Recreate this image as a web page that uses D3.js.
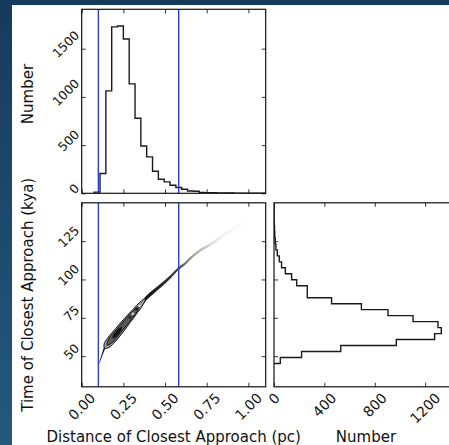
<!DOCTYPE html>
<html>
<head>
<meta charset="utf-8">
<script src="https://cdn.jsdelivr.net/npm/d3@7"></script>
<style>
  html, body { margin: 0; padding: 0; background: #1c486d; }
  svg { display: block; }
  text { font-family: "DejaVu Sans", sans-serif; fill: #111; }
</style>
</head>
<body>
<svg id="chart" width="449" height="445"></svg>
<script>
// Histogram of closest-approach distance (pc): evenly spaced bins
const distStart = 0.075;
const distWidth = 0.035;
const distCounts = [12, 205, 1062, 1726, 1735, 1601, 1135, 778, 490, 378,
                    229, 146, 118, 83, 60, 42, 24, 22, 10, 7,
                    6, 4, 3, 3, 2, 2, 1, 1, 1, 1];

// Histogram of closest-approach time (kya): evenly spaced bins
const timeStart = 45.2;
const timeWidth = 3.9;
const timeCounts = [50, 219, 530, 971, 1275, 1328, 1302, 1104, 905, 694,
                    457, 264, 264, 180, 140, 90, 60, 42, 26, 15,
                    10, 6, 4, 2, 1, 1, 0];

// Distance interval markers (pc)
const distMarkers = [0.10, 0.582];

// Ridge of the joint sample cloud: distance, time, relative density, half-spread (kya)
const ridgeDist    = [0.105, 0.115, 0.137, 0.16, 0.20, 0.25, 0.30, 0.35, 0.385, 0.43, 0.48, 0.53, 0.58, 0.62, 0.65, 0.71, 0.77, 0.85, 0.93, 0.97];
const ridgeTime    = [45.5, 48.5, 55.2, 59.5, 64.5, 70.5, 76.5, 82.5, 87.6, 92.0, 96.5, 101.5, 107.0, 110.3, 113.6, 119.0, 122.7, 128.8, 134.3, 137.5];
const ridgeDensity = [0.6, 0.9, 1, 1, 1, 1, 1, 1, 1, 0.97, 0.92, 0.87, 0.8, 0.62, 0.5, 0.32, 0.16, 0.06, 0.03, 0.01];
const ridgeSpread  = [0.8, 1.1, 1.4, 1.5, 1.5, 1.5, 1.6, 1.6, 1.5, 1.4, 1.3, 1.15, 1.0, 0.9, 0.85, 0.9, 1.0, 1.2, 1.3, 1.3];

// Density contours of the joint distribution, outermost first
const contourOuterDist = [0.137, 0.135, 0.155, 0.205, 0.256, 0.309, 0.349, 0.383, 0.368, 0.334, 0.288, 0.242, 0.192, 0.163];
const contourOuterTime = [55.2, 58.1, 61.7, 68.2, 74.5, 80.6, 85.2, 87.6, 83.5, 78.3, 71.5, 64.8, 58.4, 55.6];
const contourMidDist = [0.152, 0.162, 0.211, 0.262, 0.313, 0.349, 0.330, 0.283, 0.235, 0.185];
const contourMidTime = [57.1, 61.1, 67.6, 74.0, 80.2, 83.1, 78.7, 72.0, 65.4, 59.0];
const contourCoreDist = [0.186, 0.194, 0.218, 0.240, 0.233, 0.208];
const contourCoreTime = [61.7, 64.3, 67.5, 68.8, 66.2, 63.0];
// Small local peaks and dips inside the contours
const peakDist = [0.289, 0.329];
const peakTime = [75.3, 80.5];
const dipDist = [0.307, 0.346];
const dipTime = [77.6, 82.7];

// Axis ticks
const distTicks = [0, 0.25, 0.5, 0.75, 1.0];
const distTickLabels = ["0.00", "0.25", "0.50", "0.75", "1.00"];
const timeTicks = [50, 75, 100, 125];
const timeTickLabels = ["50", "75", "100", "125"];
const countTicksTop = [0, 500, 1000, 1500];
const countTicksTopLabels = ["0", "500", "1000", "1500"];
const countTicksRight = [0, 400, 800, 1200];
const countTicksRightLabels = ["0", "400", "800", "1200"];

// Axis titles
const distTitle = "Distance of Closest Approach (pc)";
const timeTitle = "Time of Closest Approach (kya)";
const countTitle = "Number";

// ---- layout ----
const W = 449, H = 445;
const size = 184;
const panelLeft = 81.7, panelTop = 9.3;
const col2 = 274;
const row2 = 202.8;
const tickLen = 4;
const xTickFont = 14;
const yTickFont = 12.5;
const titleFont = 15;

const svg = d3.select("#chart");
const defs = svg.append("defs");

// page background and white canvas
const bg = defs.append("linearGradient").attr("id", "bgGrad")
  .attr("x1", 0).attr("y1", 0).attr("x2", 0).attr("y2", 1);
bg.append("stop").attr("offset", 0).attr("stop-color", "#163a5c");
bg.append("stop").attr("offset", 1).attr("stop-color", "#22597f");
svg.append("rect").attr("width", W).attr("height", H).attr("fill", "url(#bgGrad)");
svg.append("rect").attr("x", 12).attr("y", 5).attr("width", W - 12).attr("height", H - 5).attr("fill", "#fff");

// ---- scales ----
const distEdges = d3.range(distCounts.length + 1).map(i => distStart + i * distWidth);
const timeEdges = d3.range(timeCounts.length + 1).map(i => timeStart + i * timeWidth);

const x = d3.scaleLinear().domain([0, 1.104]).range([panelLeft, panelLeft + size]);
const yTop = d3.scaleLinear().domain([0, 1.1 * d3.max(distCounts)]).range([panelTop + size, panelTop]);
const yTime = d3.scaleLinear().domain([30, 150]).range([row2 + size, row2]);
const xCount = d3.scaleLinear().domain([0, 1.1 * d3.max(timeCounts)]).range([col2, col2 + size]);

function clip(id, x0, y0) {
  defs.append("clipPath").attr("id", id)
    .append("rect").attr("x", x0).attr("y", y0).attr("width", size).attr("height", size);
  return "url(#" + id + ")";
}
const clipTop = clip("clipTop", panelLeft, panelTop);
const clipJoint = clip("clipJoint", panelLeft, row2);
const clipRight = clip("clipRight", col2, row2);

const lineColor = "#1a1a1a";

// ---- top panel: distance histogram ----
const distStep = [[distEdges[0], 0]];
distCounts.forEach((c, i) => { distStep.push([distEdges[i], c], [distEdges[i + 1], c]); });
distStep.push([distEdges[distEdges.length - 1], 0]);
svg.append("path")
  .attr("clip-path", clipTop)
  .attr("d", d3.line().x(p => x(p[0])).y(p => yTop(p[1]))(distStep))
  .attr("fill", "none").attr("stroke", lineColor).attr("stroke-width", 1.4);

// ---- joint panel ----
const gJoint = svg.append("g").attr("clip-path", clipJoint);

// sample cloud along the ridge
const ridgeIdx = d3.range(ridgeDist.length);
const rg = defs.append("linearGradient").attr("id", "ridgeGrad")
  .attr("gradientUnits", "userSpaceOnUse")
  .attr("x1", x(ridgeDist[0])).attr("x2", x(ridgeDist[ridgeDist.length - 1]))
  .attr("y1", 0).attr("y2", 0);
const span = x(ridgeDist[ridgeDist.length - 1]) - x(ridgeDist[0]);
ridgeIdx.forEach(i => {
  rg.append("stop")
    .attr("offset", (x(ridgeDist[i]) - x(ridgeDist[0])) / span)
    .attr("stop-color", "#000")
    .attr("stop-opacity", 0.92 * ridgeDensity[i]);
});
defs.append("filter").attr("id", "soft").attr("x", "-10%").attr("y", "-10%")
  .attr("width", "120%").attr("height", "120%")
  .append("feGaussianBlur").attr("stdDeviation", 0.6);

gJoint.append("path")
  .attr("d", d3.area()
    .x(i => x(ridgeDist[i]))
    .y0(i => yTime(ridgeTime[i] - ridgeSpread[i]))
    .y1(i => yTime(ridgeTime[i] + ridgeSpread[i]))
    .curve(d3.curveCatmullRom)(ridgeIdx))
  .attr("fill", "url(#ridgeGrad)")
  .attr("filter", "url(#soft)");

// contours
function contour(ds, ts, fill, sw) {
  gJoint.append("path")
    .attr("d", d3.line()
      .x(i => x(ds[i])).y(i => yTime(ts[i]))
      .curve(d3.curveCatmullRomClosed)(d3.range(ds.length)))
    .attr("fill", fill).attr("stroke", "#111").attr("stroke-width", sw);
}
contour(contourOuterDist, contourOuterTime, "#9c9c9c", 1.0);
contour(contourMidDist, contourMidTime, "#5a5a5a", 0.9);
contour(contourCoreDist, contourCoreTime, "#111", 0.6);
gJoint.selectAll(".dip").data(d3.range(dipDist.length)).join("ellipse")
  .attr("cx", i => x(dipDist[i])).attr("cy", i => yTime(dipTime[i]))
  .attr("rx", 1.4).attr("ry", 1.2).attr("fill", "#d4d4d4");
gJoint.selectAll(".peak").data(d3.range(peakDist.length)).join("circle")
  .attr("cx", i => x(peakDist[i])).attr("cy", i => yTime(peakTime[i]))
  .attr("r", 1.2).attr("fill", "#111");

// ---- right panel: time histogram ----
const timeStep = [[0, timeEdges[0]]];
timeCounts.forEach((c, i) => { timeStep.push([c, timeEdges[i]], [c, timeEdges[i + 1]]); });
timeStep.push([0, timeEdges[timeEdges.length - 1]]);
svg.append("path")
  .attr("clip-path", clipRight)
  .attr("d", d3.line().x(p => xCount(p[0])).y(p => yTime(p[1]))(timeStep))
  .attr("fill", "none").attr("stroke", lineColor).attr("stroke-width", 1.4);

// ---- interval markers ----
[[panelTop, clipTop], [row2, clipJoint]].forEach(([y0, cp]) => {
  svg.append("g").attr("clip-path", cp)
    .selectAll("line").data(distMarkers).join("line")
    .attr("x1", d => x(d)).attr("x2", d => x(d))
    .attr("y1", y0).attr("y2", y0 + size)
    .attr("stroke", "#2a3ed6").attr("stroke-width", 1.4);
});

// ---- ticks (inward, all sides) and frames ----
function ticks(axisGen, tx, ty) {
  const g = svg.append("g").attr("transform", `translate(${tx},${ty})`).call(axisGen);
  g.select(".domain").remove();
  g.selectAll(".tick line").attr("stroke", "#333").attr("stroke-width", 1);
  g.selectAll(".tick text").remove();
}
function frameTicks(xs, xt, ys, yt, x0, y0) {
  ticks(d3.axisBottom(xs).tickValues(xt).tickSize(-tickLen), 0, y0 + size);
  ticks(d3.axisTop(xs).tickValues(xt).tickSize(-tickLen), 0, y0);
  ticks(d3.axisLeft(ys).tickValues(yt).tickSize(-tickLen), x0, 0);
  ticks(d3.axisRight(ys).tickValues(yt).tickSize(-tickLen), x0 + size, 0);
  svg.append("rect").attr("x", x0).attr("y", y0).attr("width", size).attr("height", size)
    .attr("fill", "none").attr("stroke", "#111").attr("stroke-width", 1.2);
}
frameTicks(x, distTicks, yTop, countTicksTop, panelLeft, panelTop);
frameTicks(x, distTicks, yTime, timeTicks, panelLeft, row2);
frameTicks(xCount, countTicksRight, yTime, timeTicks, col2, row2);

// ---- rotated tick labels ----
const S = Math.SQRT1_2;
function xLabels(scale, vals, labels, yAxis) {
  vals.forEach((v, i) => {
    const t = svg.append("text").attr("font-size", xTickFont)
      .attr("text-anchor", "middle").attr("dy", "0.36em").text(labels[i]);
    const L = t.node().getComputedTextLength();
    const visH = (L + 0.73 * xTickFont) * S;
    t.attr("transform", `translate(${scale(v)},${yAxis + 5 + visH / 2}) rotate(-45)`);
  });
}
function yLabels(scale, vals, labels, xAxis) {
  vals.forEach((v, i) => {
    const t = svg.append("text").attr("font-size", yTickFont)
      .attr("text-anchor", "middle").attr("dy", "0.36em").text(labels[i]);
    const L = t.node().getComputedTextLength();
    const visW = (L + 0.73 * yTickFont) * S;
    t.attr("transform", `translate(${xAxis - 1.5 - visW / 2},${scale(v) - 4.5}) rotate(-45)`);
  });
}
xLabels(x, distTicks, distTickLabels, row2 + size);
xLabels(xCount, countTicksRight, countTicksRightLabels, row2 + size);
yLabels(yTop, countTicksTop, countTicksTopLabels, panelLeft);
yLabels(yTime, timeTicks, timeTickLabels, panelLeft);

// ---- axis titles ----
svg.append("text").attr("font-size", titleFont).attr("text-anchor", "middle")
  .attr("x", panelLeft + size / 2).attr("y", 441.5).text(distTitle);
svg.append("text").attr("font-size", titleFont).attr("text-anchor", "middle")
  .attr("x", col2 + size / 2).attr("y", 441.5).text(countTitle);
svg.append("text").attr("font-size", titleFont).attr("text-anchor", "middle")
  .attr("transform", `translate(32.5,${row2 + size / 2}) rotate(-90)`).text(timeTitle);
svg.append("text").attr("font-size", titleFont).attr("text-anchor", "middle")
  .attr("transform", `translate(32.5,94) rotate(-90)`).text(countTitle);
</script>
</body>
</html>
